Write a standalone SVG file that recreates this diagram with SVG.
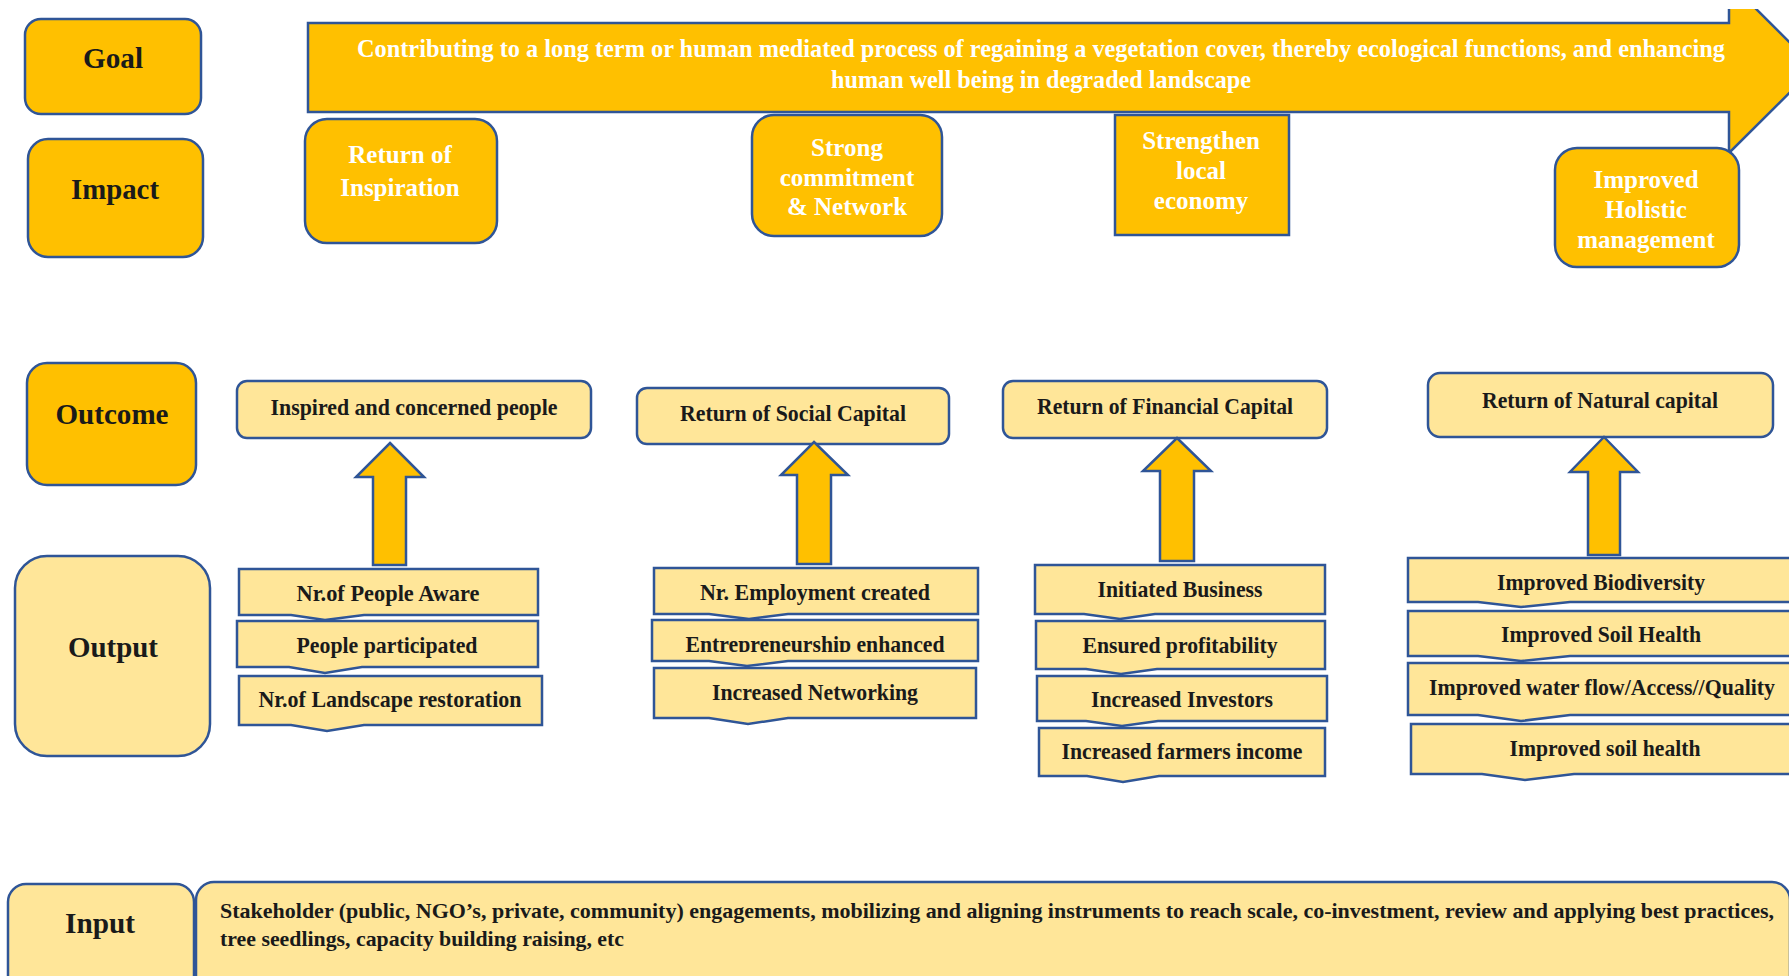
<svg xmlns="http://www.w3.org/2000/svg" width="1789" height="976" viewBox="0 0 1789 976">
<style>
.dk{fill:#FFC000;stroke:#2F5597;stroke-width:2.5}
.lt{fill:#FFE699;stroke:#2F5597;stroke-width:2.5}
.t{font-family:"Liberation Serif","Times New Roman",serif;font-weight:bold;text-anchor:middle;dominant-baseline:central}
.lab{font-size:30px;fill:#1a1a1a}
.w{font-size:25px;fill:#ffffff}
.s{font-size:24px;fill:#1a1a1a}
.in{font-size:22px;fill:#1a1a1a;text-anchor:start}
</style>
<defs>
<clipPath id="topclip"><rect x="0" y="9" width="1789" height="967"/></clipPath>
<clipPath id="entclip"><rect x="640" y="600" width="360" height="52"/></clipPath>
</defs>
<rect width="1789" height="976" fill="#ffffff"/>
<g id="goal-label"><rect class="dk" x="25" y="19" width="176" height="95" rx="16"/><text class="t lab" x="113" y="57" textLength="60" lengthAdjust="spacingAndGlyphs">Goal</text></g>
<g id="impact-label"><rect class="dk" x="28" y="139" width="175" height="118" rx="20"/><text class="t lab" x="115" y="188" textLength="88" lengthAdjust="spacingAndGlyphs">Impact</text></g>
<g id="outcome-label"><rect class="dk" x="27" y="363" width="169" height="122" rx="20"/><text class="t lab" x="112" y="413" textLength="113" lengthAdjust="spacingAndGlyphs">Outcome</text></g>
<g id="output-label"><rect class="lt" x="15" y="556" width="195" height="200" rx="32"/><text class="t lab" x="113" y="646" textLength="90" lengthAdjust="spacingAndGlyphs">Output</text></g>
<g id="input-label"><rect class="lt" x="8" y="884" width="186" height="110" rx="18"/><text class="t lab" x="100" y="922" textLength="70" lengthAdjust="spacingAndGlyphs">Input</text></g>
<g id="goal"><polygon class="dk" clip-path="url(#topclip)" points="308,23 1729,23 1729,-18 1815,67.5 1729,153 1729,112 308,112"/>
<text class="t w" x="1041" y="48" textLength="1368" lengthAdjust="spacingAndGlyphs">Contributing to a long term or human mediated process of regaining a vegetation cover, thereby ecological functions, and enhancing</text>
<text class="t w" x="1041" y="79" textLength="420" lengthAdjust="spacingAndGlyphs">human well being in degraded landscape</text></g>
<g id="impact-inspiration"><rect class="dk" x="305" y="119" width="192" height="124" rx="22"/><text class="t w" x="400" y="154">Return of</text><text class="t w" x="400" y="187">Inspiration</text></g>
<g id="impact-commitment"><rect class="dk" x="752" y="115" width="190" height="121" rx="22"/><text class="t w" x="847" y="147">Strong</text><text class="t w" x="847" y="177">commitment</text><text class="t w" x="847" y="206">&amp; Network</text></g>
<g id="impact-economy"><rect class="dk" x="1115" y="115" width="174" height="120"/><text class="t w" x="1201" y="140">Strengthen</text><text class="t w" x="1201" y="170">local</text><text class="t w" x="1201" y="200">economy</text></g>
<g id="impact-holistic"><rect class="dk" x="1555" y="148" width="184" height="119" rx="22"/><text class="t w" x="1646" y="179">Improved</text><text class="t w" x="1646" y="209">Holistic</text><text class="t w" x="1646" y="239">management</text></g>
<g id="outcome-people"><rect class="lt" x="237" y="381" width="354" height="57" rx="10"/><text class="t s" x="414" y="407" textLength="287" lengthAdjust="spacingAndGlyphs">Inspired and concerned people</text></g>
<g id="outcome-social"><rect class="lt" x="637" y="388" width="312" height="56" rx="10"/><text class="t s" x="793" y="413" textLength="226" lengthAdjust="spacingAndGlyphs">Return of Social Capital</text></g>
<g id="outcome-financial"><rect class="lt" x="1003" y="381" width="324" height="57" rx="10"/><text class="t s" x="1165" y="406" textLength="256" lengthAdjust="spacingAndGlyphs">Return of Financial Capital</text></g>
<g id="outcome-natural"><rect class="lt" x="1428" y="373" width="345" height="64" rx="12"/><text class="t s" x="1600" y="400" textLength="236" lengthAdjust="spacingAndGlyphs">Return of Natural capital</text></g>
<g id="connectors">
<polygon class="dk" points="390,443 424,477 406,477 406,565 373,565 373,477 356,477"/>
<polygon class="dk" points="814,442 848,475 831,475 831,564 797,564 797,475 781,475"/>
<polygon class="dk" points="1177,438 1211,471 1194,471 1194,561 1160,561 1160,471 1143,471"/>
<polygon class="dk" points="1604,437 1638,472 1620,472 1620,555 1588,555 1588,472 1570,472"/>
</g>
<g id="out-aware"><polygon class="lt" points="239,569 538,569 538,615 364,615 325,620 291,615 239,615"/><text class="t s" x="388" y="593" textLength="183" lengthAdjust="spacingAndGlyphs">Nr.of People Aware</text></g>
<g id="out-participated"><polygon class="lt" points="237,621 538,621 538,667 362,667 325,673 289,667 237,667"/><text class="t s" x="387" y="645" textLength="181" lengthAdjust="spacingAndGlyphs">People participated</text></g>
<g id="out-landscape"><polygon class="lt" points="239,676 542,676 542,725 364,725 327,731 291,725 239,725"/><text class="t s" x="390" y="699" textLength="263" lengthAdjust="spacingAndGlyphs">Nr.of Landscape restoration</text></g>
<g id="out-employment"><polygon class="lt" points="654,568 978,568 978,614 788,614 749,619 709,614 654,614"/><text class="t s" x="815" y="592" textLength="230" lengthAdjust="spacingAndGlyphs">Nr. Employment created</text></g>
<g id="out-entrepreneurship"><polygon class="lt" points="652,620 978,620 978,661 788,661 747,666 709,661 652,661"/><text class="t s" x="815" y="644" clip-path="url(#entclip)" textLength="259" lengthAdjust="spacingAndGlyphs">Entrepreneurship enhanced</text></g>
<g id="out-networking"><polygon class="lt" points="654,668 976,668 976,718 788,718 748,724 709,718 654,718"/><text class="t s" x="815" y="692" textLength="206" lengthAdjust="spacingAndGlyphs">Increased Networking</text></g>
<g id="out-business"><polygon class="lt" points="1035,565 1325,565 1325,614 1155,614 1120,619 1084,614 1035,614"/><text class="t s" x="1180" y="589" textLength="165" lengthAdjust="spacingAndGlyphs">Initiated Business</text></g>
<g id="out-profitability"><polygon class="lt" points="1036,621 1325,621 1325,669 1157,669 1121,674 1086,669 1036,669"/><text class="t s" x="1180" y="645" textLength="195" lengthAdjust="spacingAndGlyphs">Ensured profitability</text></g>
<g id="out-investors"><polygon class="lt" points="1037,676 1327,676 1327,721 1158,721 1122,726 1086,721 1037,721"/><text class="t s" x="1182" y="699" textLength="182" lengthAdjust="spacingAndGlyphs">Increased Investors</text></g>
<g id="out-income"><polygon class="lt" points="1039,728 1325,728 1325,776 1159,776 1123,782 1087,776 1039,776"/><text class="t s" x="1182" y="751" textLength="241" lengthAdjust="spacingAndGlyphs">Increased farmers income</text></g>
<g id="out-biodiversity"><polygon class="lt" points="1408,558 1795,558 1795,602 1570,602 1521,607 1478,602 1408,602"/><text class="t s" x="1601" y="582" textLength="208" lengthAdjust="spacingAndGlyphs">Improved Biodiversity</text></g>
<g id="out-soil1"><polygon class="lt" points="1408,611 1795,611 1795,656 1570,656 1521,661 1478,656 1408,656"/><text class="t s" x="1601" y="634" textLength="200" lengthAdjust="spacingAndGlyphs">Improved Soil Health</text></g>
<g id="out-water"><polygon class="lt" points="1408,663 1795,663 1795,715 1570,715 1521,721 1478,715 1408,715"/><text class="t s" x="1602" y="687" textLength="346" lengthAdjust="spacingAndGlyphs">Improved water flow/Access//Quality</text></g>
<g id="out-soil2"><polygon class="lt" points="1411,724 1795,724 1795,774 1574,774 1525,780 1482,774 1411,774"/><text class="t s" x="1605" y="748" textLength="191" lengthAdjust="spacingAndGlyphs">Improved soil health</text></g>
<g id="input"><rect class="lt" x="196" y="882" width="1594" height="112" rx="18"/>
<text class="t in" x="220" y="910" textLength="1554" lengthAdjust="spacingAndGlyphs">Stakeholder (public, NGO’s, private, community) engagements, mobilizing and aligning instruments to reach scale, co-investment, review and applying best practices,</text>
<text class="t in" x="220" y="938" textLength="404" lengthAdjust="spacingAndGlyphs">tree seedlings, capacity building raising, etc</text></g>
</svg>
